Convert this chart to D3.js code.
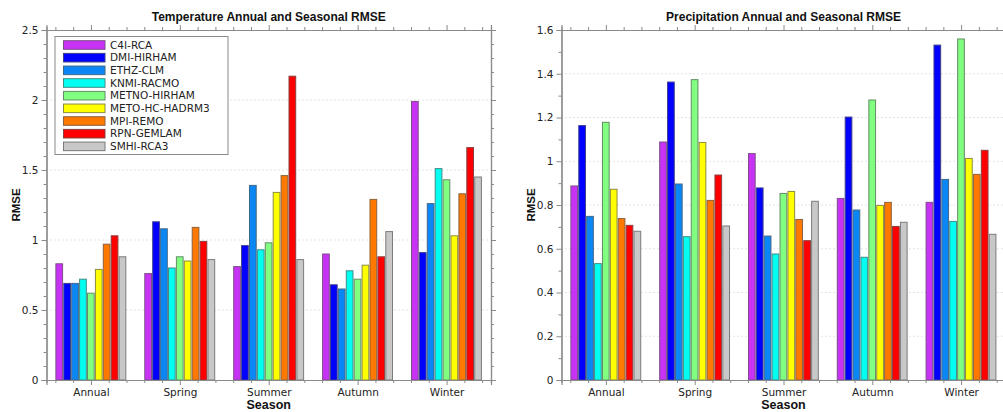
<!DOCTYPE html>
<html>
<head>
<meta charset="utf-8">
<script src="https://cdn.jsdelivr.net/npm/d3@7"></script>
<style>
  html, body { margin: 0; padding: 0; background: #fff; }
  svg { display: block; font-family: "DejaVu Sans", sans-serif; }
</style>
</head>
<body>
<svg id="chart" width="1003" height="412"></svg>
<script>
// Seasons on the x axis and the regional climate models (one bar each)
const seasons = ["Annual", "Spring", "Summer", "Autumn", "Winter"];
const models = ["C4I-RCA", "DMI-HIRHAM", "ETHZ-CLM", "KNMI-RACMO", "METNO-HIRHAM",
                "METO-HC-HADRM3", "MPI-REMO", "RPN-GEMLAM", "SMHI-RCA3"];
const modelColors = ["#c832f5", "#0000ff", "#0a87f5", "#00fff0", "#80ff80",
                     "#ffff00", "#ff7800", "#ff0000", "#c8c8c8"];

// Temperature RMSE, one row per model, one value per season
const tempC4I   = [0.83, 0.76, 0.81, 0.90, 1.99];
const tempDMI   = [0.69, 1.13, 0.96, 0.68, 0.91];
const tempETHZ  = [0.69, 1.08, 1.39, 0.65, 1.26];
const tempKNMI  = [0.72, 0.80, 0.93, 0.78, 1.51];
const tempMETNO = [0.62, 0.88, 0.98, 0.72, 1.43];
const tempMETO  = [0.79, 0.85, 1.34, 0.82, 1.03];
const tempMPI   = [0.97, 1.09, 1.46, 1.29, 1.33];
const tempRPN   = [1.03, 0.99, 2.17, 0.88, 1.66];
const tempSMHI  = [0.88, 0.86, 0.86, 1.06, 1.45];

// Precipitation RMSE, same layout
const precC4I   = [0.887, 1.088, 1.035, 0.830, 0.812];
const precDMI   = [1.163, 1.362, 0.878, 1.202, 1.531];
const precETHZ  = [0.748, 0.896, 0.658, 0.777, 0.917];
const precKNMI  = [0.532, 0.655, 0.576, 0.561, 0.725];
const precMETNO = [1.178, 1.373, 0.853, 1.280, 1.559];
const precMETO  = [0.872, 1.086, 0.862, 0.798, 1.013];
const precMPI   = [0.738, 0.821, 0.734, 0.812, 0.940];
const precRPN   = [0.707, 0.937, 0.637, 0.702, 1.050];
const precSMHI  = [0.680, 0.704, 0.817, 0.721, 0.666];

const tempValues = [tempC4I, tempDMI, tempETHZ, tempKNMI, tempMETNO, tempMETO, tempMPI, tempRPN, tempSMHI];
const precValues = [precC4I, precDMI, precETHZ, precKNMI, precMETNO, precMETO, precMPI, precRPN, precSMHI];

const tempYTicks = [0, 0.5, 1, 1.5, 2, 2.5];
const precYTicks = [0, 0.2, 0.4, 0.6, 0.8, 1, 1.2, 1.4, 1.6];

const svg = d3.select("#chart");
const axisColor = "#8a8a8a";
const textColor = "#222";
const boldFont = "Liberation Sans, Arial, sans-serif";

function panel(opts) {
  const { left, right, top, bottom, values, yMax, yMajor, yMinorStep, title, legend } = opts;
  const g = svg.append("g");

  // x: continuous season index, each season occupies one unit centred on its index
  const x = d3.scaleLinear().domain([-0.5, seasons.length - 0.5]).range([left, right]);
  const y = d3.scaleLinear().domain([0, yMax]).range([bottom, top]);

  // dotted grid at the major y values
  g.append("g").selectAll("line")
    .data(yMajor.filter(v => v > 0 && v < yMax))
    .join("line")
    .attr("x1", left).attr("x2", right)
    .attr("y1", d => y(d)).attr("y2", d => y(d))
    .attr("stroke", "#c8c8c8").attr("stroke-width", 1)
    .attr("stroke-dasharray", "1,3");

  // bars: nine models spread over 0.8 of each season unit
  const groupWidth = 0.8;
  const step = groupWidth / models.length;
  const bars = [];
  values.forEach((row, m) => {
    row.forEach((v, s) => {
      bars.push({ m, s, v });
    });
  });
  g.append("g").selectAll("rect")
    .data(bars)
    .join("rect")
    .attr("x", d => x(d.s - groupWidth / 2 + d.m * step) + 0.5)
    .attr("width", d => x(step) - x(0) - 1.2)
    .attr("y", d => y(d.v))
    .attr("height", d => y(0) - y(d.v))
    .attr("fill", d => modelColors[d.m])
    .attr("stroke", d => d3.interpolateRgb(modelColors[d.m], "#5a5a5a")(0.7))
    .attr("stroke-width", 1);

  // frame axes with outward ticks on all four sides
  const xMajor = d3.range(seasons.length);
  const xMinor = d3.range(-0.4, seasons.length - 0.5, 0.2).map(v => +v.toFixed(2))
    .filter(v => Math.abs(v - Math.round(v)) > 1e-6);
  const yMinor = d3.range(0, yMax + 1e-9, yMinorStep).map(v => +v.toFixed(2))
    .filter(v => !yMajor.some(t => Math.abs(t - v) < 1e-6));

  const bottomAxis = d3.axisBottom(x).tickValues(xMajor).tickFormat(i => seasons[i]).tickSize(5).tickPadding(4);
  const bottomMinor = d3.axisBottom(x).tickValues(xMinor).tickFormat("").tickSize(3);
  const topAxis = d3.axisTop(x).tickValues(xMajor).tickFormat("").tickSize(5);
  const topMinor = d3.axisTop(x).tickValues(xMinor).tickFormat("").tickSize(3);
  const leftAxis = d3.axisLeft(y).tickValues(yMajor).tickFormat(d3.format("~g")).tickSize(5).tickPadding(3);
  const leftMinor = d3.axisLeft(y).tickValues(yMinor).tickFormat("").tickSize(3);
  const rightAxis = d3.axisRight(y).tickValues(yMajor).tickFormat("").tickSize(5);
  const rightMinor = d3.axisRight(y).tickValues(yMinor).tickFormat("").tickSize(3);

  const axes = [
    [bottomAxis, `translate(0,${bottom})`], [bottomMinor, `translate(0,${bottom})`],
    [topAxis, `translate(0,${top})`], [topMinor, `translate(0,${top})`],
    [leftAxis, `translate(${left},0)`], [leftMinor, `translate(${left},0)`],
    [rightAxis, `translate(${right},0)`], [rightMinor, `translate(${right},0)`]
  ];
  axes.forEach(([ax, tr]) => {
    const a = g.append("g").attr("transform", tr).call(ax);
    a.selectAll(".domain").attr("stroke", axisColor).attr("stroke-width", 1.2);
    a.selectAll(".tick line").attr("stroke", axisColor);
    a.selectAll("text").attr("fill", textColor).attr("font-size", 10.5)
      .attr("font-family", "DejaVu Sans, sans-serif");
  });

  // titles
  g.append("text")
    .attr("x", (left + right) / 2).attr("y", 21)
    .attr("text-anchor", "middle").attr("font-family", boldFont)
    .attr("font-size", 12).attr("font-weight", "bold").attr("fill", "#111")
    .text(title);
  g.append("text")
    .attr("x", (left + right) / 2).attr("y", 409)
    .attr("text-anchor", "middle").attr("font-family", boldFont)
    .attr("font-size", 12.5).attr("font-weight", "bold").attr("fill", "#111")
    .text("Season");
  g.append("text")
    .attr("transform", `translate(${left - 27},${(top + bottom) / 2}) rotate(-90)`)
    .attr("text-anchor", "middle").attr("font-family", boldFont)
    .attr("font-size", 11.5).attr("font-weight", "bold").attr("fill", "#111")
    .text("RMSE");

  if (legend) {
    const lg = g.append("g").attr("transform", `translate(${left + 8.5},${top + 6.5})`);
    lg.append("rect")
      .attr("width", 173).attr("height", 118)
      .attr("fill", "#fff").attr("stroke", axisColor).attr("stroke-width", 1);
    const rows = lg.selectAll("g.item").data(models).join("g")
      .attr("class", "item")
      .attr("transform", (d, i) => `translate(0,${8.5 + i * 12.67})`);
    rows.append("rect")
      .attr("x", 8.5).attr("y", -4.3).attr("width", 41.5).attr("height", 8.6)
      .attr("fill", (d, i) => modelColors[i])
      .attr("stroke", (d, i) => d3.interpolateRgb(modelColors[i], "#5a5a5a")(0.7));
    rows.append("text")
      .attr("x", 55).attr("y", 0).attr("dy", "0.36em")
      .attr("font-size", 10.5).attr("fill", textColor)
      .text(d => d);
  }
}

panel({
  left: 46.5, right: 491, top: 30, bottom: 380,
  values: tempValues, yMax: 2.5, yMajor: tempYTicks, yMinorStep: 0.1,
  title: "Temperature Annual and Seasonal RMSE", legend: true
});
panel({
  left: 561.5, right: 1005.5, top: 30, bottom: 380,
  values: precValues, yMax: 1.6, yMajor: precYTicks, yMinorStep: 0.1,
  title: "Precipitation Annual and Seasonal RMSE", legend: false
});
</script>
</body>
</html>
